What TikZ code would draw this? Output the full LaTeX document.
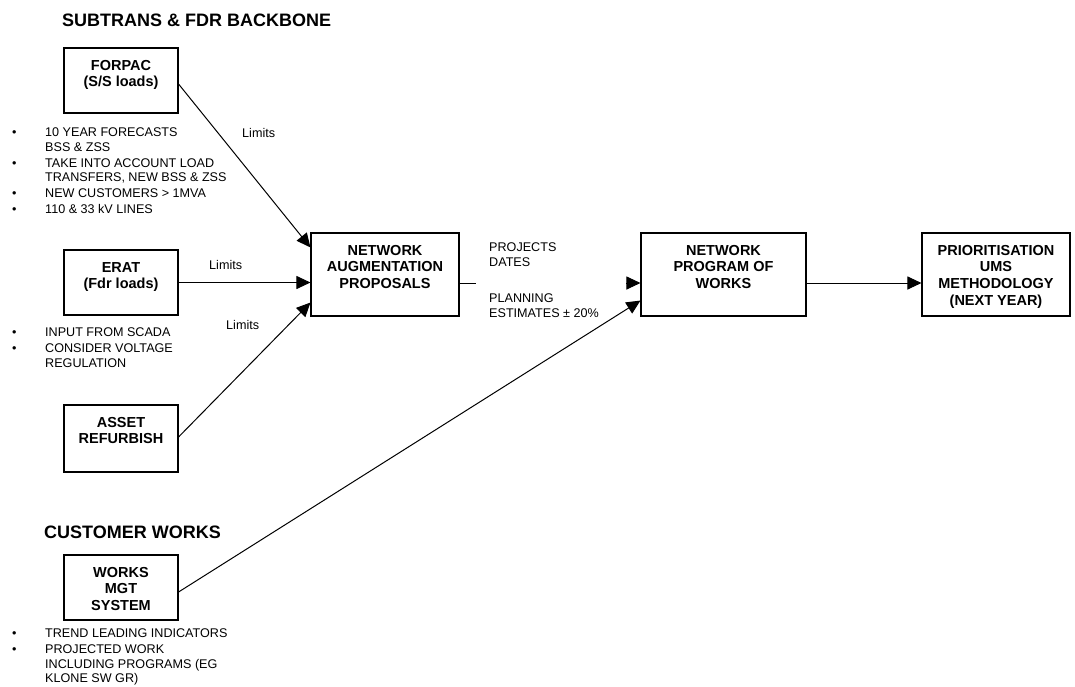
\documentclass[tikz,border=0pt]{standalone}
\usepackage{fontspec}
\setmainfont{Liberation Sans}
\usetikzlibrary{arrows.meta,calc}
\newcommand{\bxt}[3]{\parbox[c][#2][t]{#1}{\centering\fontsize{14.5}{16.7}\selectfont\bfseries\rule{0pt}{22pt}#3\par}}
\begin{document}
\begin{tikzpicture}[x=1pt,y=-1pt,
  box/.style={draw,line width=1.1pt,inner sep=0pt},
  arr/.style={line width=1pt,-{Triangle[length=14pt,width=13pt]}},
  ln/.style={line width=1pt},
  small/.style={font=\fontsize{12.6}{14.5}\selectfont, inner sep=0pt},
  lbl/.style={font=\fontsize{12.6}{15}\selectfont, inner sep=0pt, align=left, anchor=north west},
  title/.style={font=\fontsize{18}{21}\selectfont\bfseries, inner sep=0pt, anchor=west}]
\useasboundingbox (0,0) rectangle (1075,686);

\node[title] (t1) at (62,20) {SUBTRANS \& FDR BACKBONE};
\node[title] (t2) at (44,532) {CUSTOMER WORKS};

\node[box] (forpac) at (121,80.5) {\bxt{114pt}{65pt}{FORPAC\\(S/S loads)}};
\node[box] (erat) at (121,282.5) {\bxt{114pt}{65pt}{ERAT\\(Fdr loads)}};
\node[box] (asset) at (121,438.5) {\bxt{114pt}{67pt}{ASSET\\REFURBISH}};
\node[box] (works) at (121,587.5) {\bxt{114pt}{65pt}{WORKS\\MGT\\SYSTEM}};
\node[box] (nap) at (385,274.5) {\bxt{148pt}{83pt}{NETWORK\\AUGMENTATION\\PROPOSALS}};
\node[box] (npw) at (723.5,274.5) {\bxt{165pt}{83pt}{NETWORK\\PROGRAM OF\\WORKS}};
\node[box] (prio) at (996,274.5) {\bxt{148pt}{83pt}{PRIORITISATION\\UMS\\METHODOLOGY\\(NEXT YEAR)}};

\node[small, anchor=north west] (b1) at (12,126.5) {\begin{tabular}{@{}p{33pt}@{}l@{}}•&10 YEAR FORECASTS\\&BSS \& ZSS\\[1.5pt]•&TAKE INTO ACCOUNT LOAD\\&TRANSFERS, NEW BSS \& ZSS\\[1.5pt]•&NEW CUSTOMERS > 1MVA\\[1.5pt]•&110 \& 33 kV LINES\end{tabular}};
\node[small, anchor=north west] (b2) at (12,326.5) {\begin{tabular}{@{}p{33pt}@{}l@{}}•&INPUT FROM SCADA\\[1.5pt]•&CONSIDER VOLTAGE\\&REGULATION\end{tabular}};
\node[small, anchor=north west] (b3) at (12,627.5) {\begin{tabular}{@{}p{33pt}@{}l@{}}•&TREND LEADING INDICATORS\\[1.5pt]•&PROJECTED WORK\\&INCLUDING PROGRAMS (EG\\&KLONE SW GR)\end{tabular}};

\node[small, anchor=west] (l1) at (242,133) {Limits};
\node[small, anchor=west] (l2) at (209,265) {Limits};
\node[small, anchor=west] (l3) at (226,325) {Limits};

\node[lbl] (pd) at (489,242.5) {PROJECTS\\DATES};
\node[lbl] (pe) at (489,293.5) {PLANNING\\ESTIMATES ± 20\%};

\draw[arr] ([yshift=-3.5pt]forpac.east) -- ([yshift=-15pt]nap.north west);
\draw[arr] (erat.east) -- (erat.east -| nap.west);
\draw[arr] ([yshift=1.5pt]asset.east) -- ([yshift=14pt]nap.south west);
\draw[arr] ([yshift=-4.5pt]works.east) -- ([yshift=16pt]npw.south west);
\coordinate (gl) at (476,283);
\coordinate (gr) at (626,283);
\draw[ln] (nap.east |- gl) -- (gl);
\draw[arr] (gr) -- (gr -| npw.west);
\draw[arr] ([yshift=-8.5pt]npw.east) -- ([yshift=-8.5pt]prio.west);
\end{tikzpicture}
\end{document}
